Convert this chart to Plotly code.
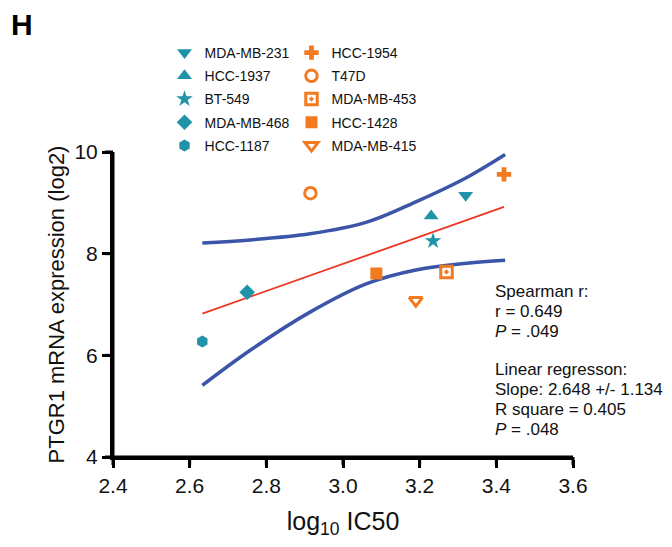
import plotly.graph_objects as go

# ---- data ----
teal_lines = ["MDA-MB-231", "HCC-1937", "BT-549", "MDA-MB-468", "HCC-1187"]
teal_x = [3.32, 3.23, 3.235, 2.75, 2.633]
teal_y = [9.15, 8.74, 8.25, 7.24, 6.27]
teal_symbols = ["triangle-down", "triangle-up", "star", "diamond", "hexagon"]

orange_lines = ["HCC-1954", "T47D", "MDA-MB-453", "HCC-1428", "MDA-MB-415"]
orange_x = [3.42, 2.915, 3.27, 3.087, 3.19]
orange_y = [9.56, 9.19, 7.64, 7.61, 7.08]
orange_symbols = ["cross", "circle-open", "square-open-dot", "square", "triangle-down-open"]

fit_x = [2.633, 3.42]
fit_y = [6.82, 8.92]

band_x = [2.633, 2.758, 2.914, 3.062, 3.19, 3.323, 3.423]
upper_y = [8.21, 8.27, 8.39, 8.62, 9.02, 9.50, 9.95]
lower_y = [5.41, 6.10, 6.85, 7.41, 7.68, 7.81, 7.87]

x_range = [2.4, 3.6]
y_range = [4, 10]
x_ticks = [2.4, 2.6, 2.8, 3.0, 3.2, 3.4, 3.6]
y_ticks = [4, 6, 8, 10]

stats_lines = ["Spearman r:", "r = 0.649", "<i>P</i> = .049",
               "Linear regresson:", "Slope: 2.648 +/- 1.134", "R square = 0.405", "<i>P</i> = .048"]

TEAL = "#1f93a7"
ORANGE = "#f47a20"
BLUE = "#3b55a8"
RED = "#ee3524"
INK = "#111111"
FONT = "Liberation Sans, Arial, Helvetica, sans-serif"

PLOT_W, PLOT_H = 460, 305   # plot-area size in px
TICK_LEN = 8

fig = go.Figure()

fig.add_trace(go.Scatter(x=band_x, y=upper_y, mode="lines", line=dict(color=BLUE, width=3.5, shape="spline"),
                         showlegend=False, hoverinfo="skip"))
fig.add_trace(go.Scatter(x=band_x, y=lower_y, mode="lines", line=dict(color=BLUE, width=3.5, shape="spline"),
                         showlegend=False, hoverinfo="skip"))
fig.add_trace(go.Scatter(x=fit_x, y=fit_y, mode="lines", line=dict(color=RED, width=1.8),
                         showlegend=False, hoverinfo="skip"))

for n, x, y, s in zip(teal_lines, teal_x, teal_y, teal_symbols):
    size = {"triangle-down": 13, "triangle-up": 13, "star": 12.5}.get(s, 12)
    fig.add_trace(go.Scatter(x=[x], y=[y], mode="markers", name=n, legend="legend", legendgroup=n,
                             marker=dict(symbol=s, size=size, color=TEAL, line=dict(width=0))))
for n, x, y, s in zip(orange_lines, orange_x, orange_y, orange_symbols):
    mk = dict(symbol=s, size=12, color=ORANGE)
    if "open" in s:
        mk["line"] = dict(width=3, color=ORANGE)
        mk["size"] = 11.5
    else:
        mk["line"] = dict(width=0)
    fig.add_trace(go.Scatter(x=[x], y=[y], mode="markers", name=n, legend="legend2", legendgroup=n,
                             marker=mk))

leg_common = dict(font=dict(family=FONT, size=14, color=INK), bgcolor="rgba(0,0,0,0)",
                  tracegroupgap=2, traceorder="grouped", xanchor="left", yanchor="top",
                  itemwidth=30)
fig.update_layout(
    legend=dict(x=0.112, y=1.377, **leg_common),
    legend2=dict(x=0.388, y=1.377, **leg_common),
)

axis_common = dict(showline=True, linecolor="#000000", linewidth=3, mirror=False,
                   ticks="outside", ticklen=TICK_LEN, tickwidth=3, tickcolor="#000000",
                   showgrid=False, zeroline=False, automargin=False,
                   tickfont=dict(family=FONT, size=21, color=INK))
fig.update_xaxes(range=x_range, tickvals=x_ticks, ticktext=[f"{v:.1f}" for v in x_ticks],
                 title=dict(text="log<sub>10</sub> IC50", font=dict(family=FONT, size=25, color=INK),
                            standoff=25), **axis_common)
fig.update_yaxes(range=y_range, tickvals=y_ticks, ticktext=[str(v) for v in y_ticks],
                 title=dict(text="PTGR1 mRNA expression (log2)", font=dict(family=FONT, size=22, color=INK),
                            standoff=4), **axis_common)

# axis frame drawn as shapes (positions derived from the axis ranges and tick arrays)
def xp(v):
    return (v - x_range[0]) / (x_range[1] - x_range[0])

def yp(v):
    return (v - y_range[0]) / (y_range[1] - y_range[0])

axis_line = dict(color="#000000", width=3)
shapes = [
    dict(type="line", xref="paper", yref="paper", x0=0, x1=1, y0=0, y1=0, line=axis_line, layer="above"),
    dict(type="line", xref="paper", yref="paper", x0=0, x1=0, y0=0, y1=1, line=axis_line, layer="above"),
]
for v in x_ticks:
    shapes.append(dict(type="line", xref="paper", yref="paper", x0=xp(v), x1=xp(v),
                       y0=0, y1=-TICK_LEN / PLOT_H, line=axis_line, layer="above"))
for v in y_ticks:
    shapes.append(dict(type="line", xref="paper", yref="paper", x0=0, x1=-TICK_LEN / PLOT_W,
                       y0=yp(v), y1=yp(v), line=axis_line, layer="above"))

annots = [dict(text="<b>H</b>", xref="paper", yref="paper", x=-0.226, y=1.418, xanchor="left",
               yanchor="middle", showarrow=False, font=dict(family=FONT, size=30, color="black"))]
stat_y_px = [291.7, 311.7, 331.7, 369, 389, 409, 429]
for t, py in zip(stats_lines, stat_y_px):
    annots.append(dict(text=t, xref="paper", yref="paper", x=0.826, y=(457 - py) / PLOT_H,
                       xanchor="left", yanchor="middle", align="left", showarrow=False,
                       font=dict(family=FONT, size=17, color=INK)))

fig.update_layout(
    width=656, height=531,
    margin=dict(l=105, r=91, t=144, b=82),
    plot_bgcolor="white", paper_bgcolor="white",
    font=dict(family=FONT),
    annotations=annots,
    shapes=shapes,
)

fig.write_html("out.html")
